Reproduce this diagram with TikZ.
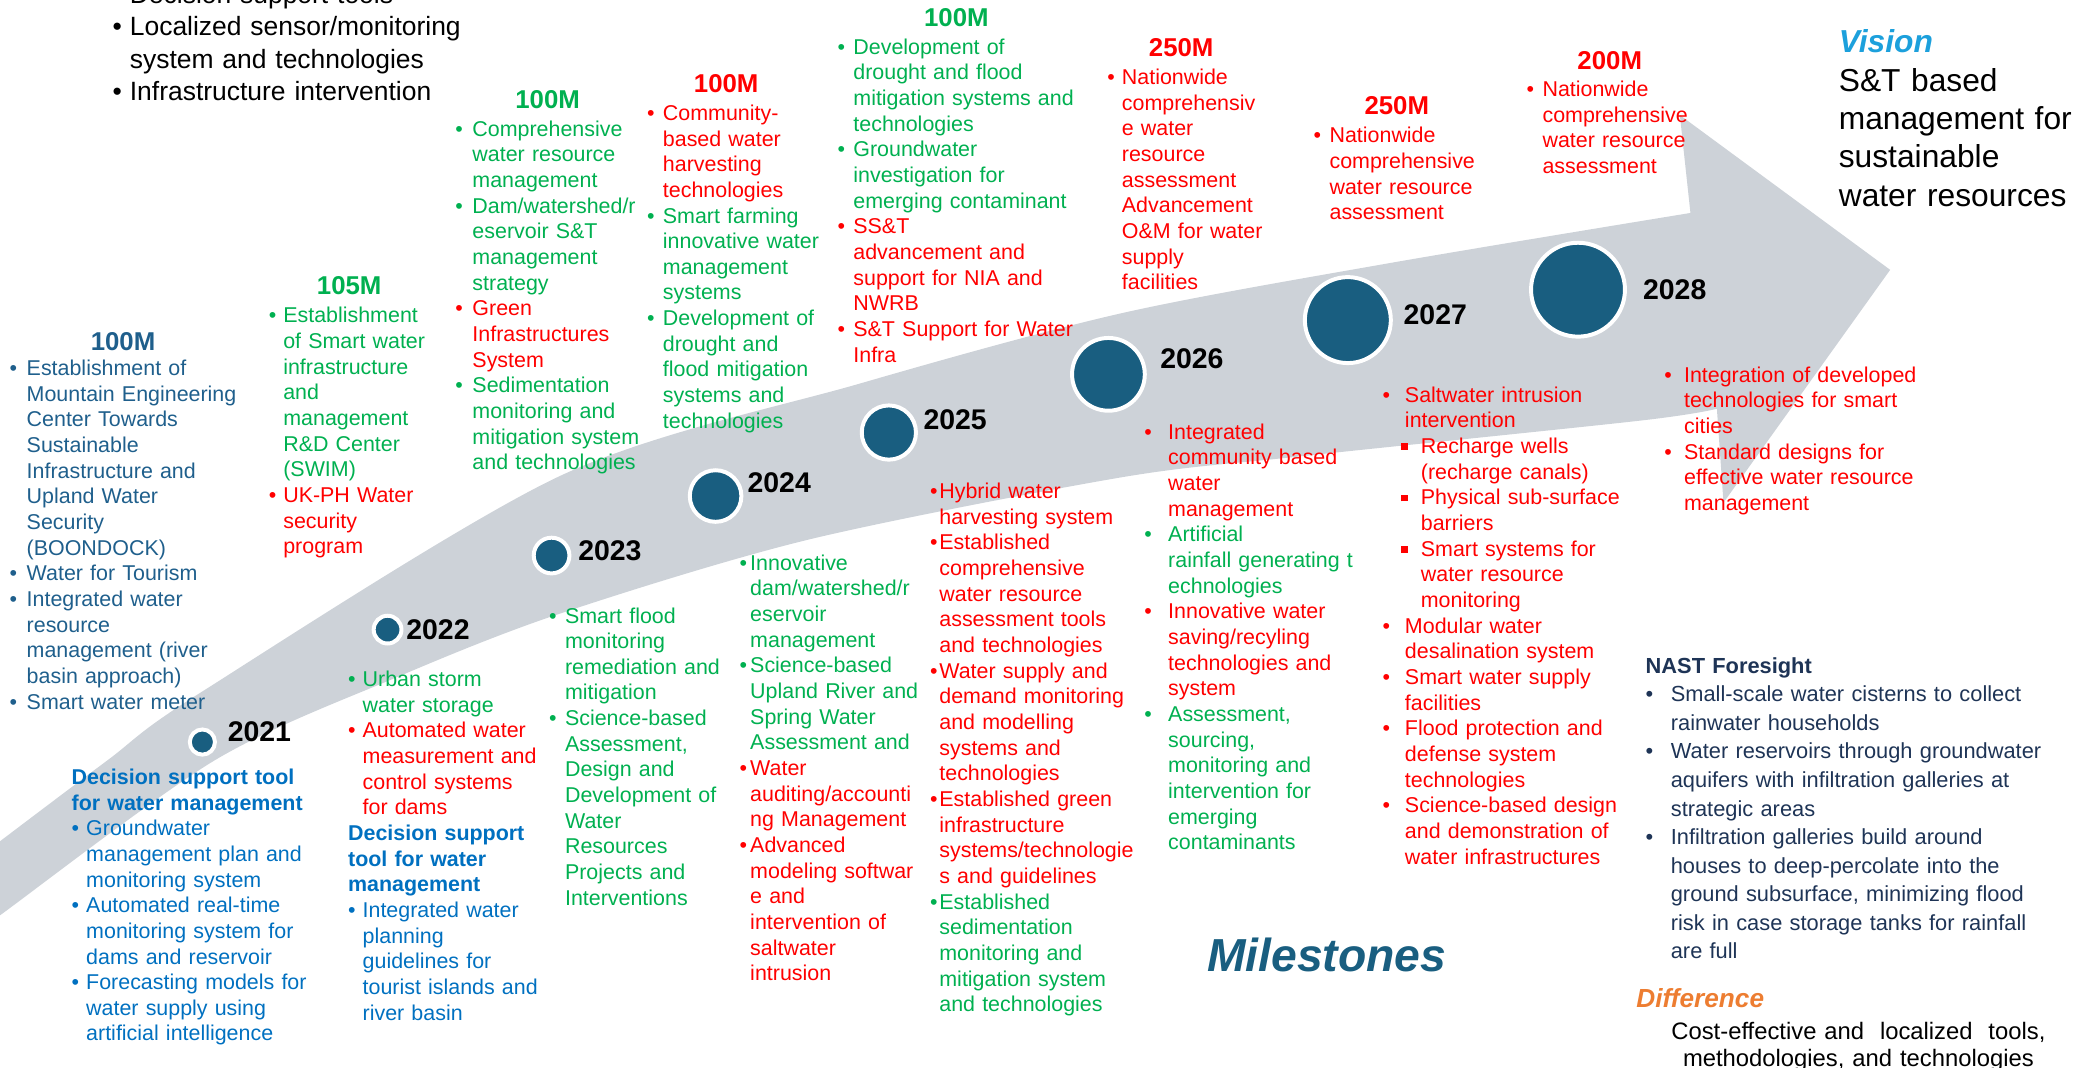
\documentclass[tikz,border=0pt]{standalone}
\usepackage{fontspec}
\setmainfont{Liberation Sans}
\usetikzlibrary{positioning}
\definecolor{bandgray}{RGB}{205,210,216}
\definecolor{tealblue}{RGB}{25,94,128}
\definecolor{blockblue}{RGB}{31,95,140}
\definecolor{toolblue}{RGB}{0,112,192}
\definecolor{techgreen}{RGB}{0,176,80}
\definecolor{techred}{RGB}{255,0,0}
\definecolor{visionblue}{RGB}{28,160,220}
\definecolor{difforange}{RGB}{237,125,49}
\definecolor{nastnavy}{RGB}{30,52,86}
\newlength{\bw}
\newcommand{\bodyfont}{\fontsize{16.2}{19.4}\selectfont}
\newcommand{\itm}[2]{\noindent{\color{#1}\hangindent=\bw\hangafter=1\makebox[\bw][l]{\textbullet}#2\par}}
\newcommand{\sqitm}[2]{\noindent{\color{#1}\hangindent=29pt\hangafter=1\hspace*{14pt}\makebox[15pt][l]{\raisebox{2.6pt}{\rule{5pt}{5pt}}}#2\par}}
\newcommand{\hdr}[2]{\noindent{\color{#1}\bfseries #2\par}}
\tikzset{
  band/.style={fill=bandgray},
  yeardot/.style={circle, fill=tealblue, draw=white, line width=3pt, inner sep=0pt, minimum size=#1},
  yearlbl/.style={inner sep=0pt, font=\fontsize{21.5}{25}\selectfont\bfseries},
  amt/.style={inner sep=0pt, font=\fontsize{19.5}{23}\selectfont\bfseries},
  lst/.style={anchor=base west, inner sep=0pt, text width=360pt, align=left, font=\bodyfont,
    execute at begin node={\setlength{\bw}{#1}}}}

\begin{document}
\begin{tikzpicture}[x=1pt,y=-1pt]
\useasboundingbox (0,0) rectangle (1568,807);
\clip (0,0) rectangle (1568,807);

\fill[band] plot[smooth] coordinates {(-30,659) (0,636) (81,575) (151,524) (423,360) (650,290) (847,237) (1050,199) (1278,161)}
  -- (1270,87) -- (1429,204) -- (1303,380) -- (1298,309)
  -- plot[smooth] coordinates {(1298,309) (1240,318) (983,345) (847,361) (611,408) (423,464) (300,512) (162,575) (0,692) (-30,714)} -- cycle;

\node[yeardot=19pt] (c21) at (153,561) {};
\node[yeardot=21pt] (c22) at (293,476) {};
\node[yeardot=27pt] (c23) at (417,420) {};
\node[yeardot=39pt] (c24) at (541,375) {};
\node[yeardot=41pt] (c25) at (672,327) {};
\node[yeardot=55pt] (c26) at (838,283) {};
\node[yeardot=65pt] (c27) at (1019,242) {};
\node[yeardot=71pt] (c28) at (1193,219) {};

\node[yearlbl, right=8pt of c21, yshift=8pt] (y21) {2021};
\node[yearlbl, right=2pt of c22] (y22) {2022};
\node[yearlbl, right=5pt of c23, yshift=4pt] (y23) {2023};
\node[yearlbl, right=3pt of c24, yshift=10pt] (y24) {2024};
\node[yearlbl, right=4pt of c25, yshift=10pt] (y25) {2025};
\node[yearlbl, right=10pt of c26, yshift=12pt] (y26) {2026};
\node[yearlbl, right=8pt of c27, yshift=4pt] (y27) {2027};
\node[yearlbl, right=12pt of c28] (y28) {2028};

\node[lst=13pt, font=\fontsize{20}{24.5}\selectfont] (goals) at (85,2.5) {\itm{black}{Decision support tools}\itm{black}{Localized sensor/monitoring\newline system and technologies}\itm{black}{Infrastructure intervention}};

\node[amt, text=blockblue] (m21) at (93,258) {100M};
\node[lst=13pt] (top21) at (7,284) {\itm{blockblue}{Establishment of\newline Mountain Engineering\newline Center Towards\newline Sustainable\newline Infrastructure and\newline Upland Water\newline Security\newline (BOONDOCK)}\itm{blockblue}{Water for Tourism}\itm{blockblue}{Integrated water\newline resource\newline management (river\newline basin approach)}\itm{blockblue}{Smart water meter}};

\node[amt, text=techgreen] (m22) at (264,216) {105M};
\node[lst=11pt] (top22) at (203,244) {\itm{techgreen}{Establishment\newline of Smart water\newline infrastructure\newline and\newline management\newline R\&D Center\newline (SWIM)}\itm{techred}{UK-PH Water\newline security\newline program}};

\node[amt, text=techgreen] (m23) at (414,75) {100M};
\node[lst=13pt] (top23) at (344,103) {\itm{techgreen}{Comprehensive\newline water resource\newline management}\itm{techgreen}{Dam/watershed/r\newline eservoir S\&T\newline management\newline strategy}\itm{techred}{Green\newline Infrastructures\newline System}\itm{techgreen}{Sedimentation\newline monitoring and\newline mitigation system\newline and technologies}};

\node[amt, text=techred] (m24) at (549,63) {100M};
\node[lst=12pt] (top24) at (489,91) {\itm{techred}{Community-\newline based water\newline harvesting\newline technologies}\itm{techgreen}{Smart farming\newline innovative water\newline management\newline systems}\itm{techgreen}{Development of\newline drought and\newline flood mitigation\newline systems and\newline technologies}};

\node[amt, text=techgreen] (m25) at (723,13) {100M};
\node[lst=12pt] (top25) at (633,41) {\itm{techgreen}{Development of\newline drought and flood\newline mitigation systems and\newline technologies}\itm{techgreen}{Groundwater\newline investigation for\newline emerging contaminant}\itm{techred}{SS\&T\newline advancement and\newline support for NIA and\newline NWRB}\itm{techred}{S\&T Support for Water\newline Infra}};

\node[amt, text=techred] (m26) at (893,36) {250M};
\node[lst=11pt] (top26) at (837,64) {\itm{techred}{Nationwide\newline comprehensiv\newline e water\newline resource\newline assessment\newline Advancement\newline O\&M for water\newline supply\newline facilities}};

\node[amt, text=techred] (m27) at (1056,80) {250M};
\node[lst=12pt] (top27) at (993,108) {\itm{techred}{Nationwide\newline comprehensive\newline water resource\newline assessment}};

\node[amt, text=techred] (m28) at (1217,46) {200M};
\node[lst=12pt] (top28) at (1154,73) {\itm{techred}{Nationwide\newline comprehensive\newline water resource\newline assessment}};

\node[lst=11pt] (bot21) at (54,593) {\hdr{toolblue}{Decision support tool\newline for water management}\itm{toolblue}{Groundwater\newline management plan and\newline monitoring system}\itm{toolblue}{Automated real-time\newline monitoring system for\newline dams and reservoir}\itm{toolblue}{Forecasting models for\newline water supply using\newline artificial intelligence}};

\node[lst=11pt] (bot22) at (263,519) {\itm{techgreen}{Urban storm\newline water storage}\itm{techred}{Automated water\newline measurement and\newline control systems\newline for dams}\hdr{toolblue}{Decision support\newline tool for water\newline management}\itm{toolblue}{Integrated water\newline planning\newline guidelines for\newline tourist islands and\newline river basin}};

\node[lst=12pt] (bot23) at (415,471) {\itm{techgreen}{Smart flood\newline monitoring\newline remediation and\newline mitigation}\itm{techgreen}{Science-based\newline Assessment,\newline Design and\newline Development of\newline Water\newline Resources\newline Projects and\newline Interventions}};

\node[lst=8pt] (bot24) at (559,431) {\itm{techgreen}{Innovative\newline dam/watershed/r\newline eservoir\newline management}\itm{techgreen}{Science-based\newline Upland River and\newline Spring Water\newline Assessment and}\itm{techred}{Water\newline auditing/accounti\newline ng Management}\itm{techred}{Advanced\newline modeling softwar\newline e and\newline intervention of\newline saltwater\newline intrusion}};

\node[lst=7pt] (bot25) at (703,377) {\itm{techred}{Hybrid water\newline harvesting system}\itm{techred}{Established\newline comprehensive\newline water resource\newline assessment tools\newline and technologies}\itm{techred}{Water supply and\newline demand monitoring\newline and modelling\newline systems and\newline technologies}\itm{techred}{Established green\newline infrastructure\newline systems/technologie\newline s and guidelines}\itm{techgreen}{Established\newline sedimentation\newline monitoring and\newline mitigation system\newline and technologies}};

\node[lst=18pt] (bot26) at (865,332) {\itm{techred}{Integrated\newline community based\newline water\newline management}\itm{techgreen}{Artificial\newline rainfall generating t\newline echnologies}\itm{techred}{Innovative water\newline saving/recyling\newline technologies and\newline system}\itm{techgreen}{Assessment,\newline sourcing,\newline monitoring and\newline intervention for\newline emerging\newline contaminants}};

\node[lst=17pt] (bot27) at (1045,304) {\itm{techred}{Saltwater intrusion\newline intervention}\sqitm{techred}{Recharge wells\newline (recharge canals)}\sqitm{techred}{Physical sub-surface\newline barriers}\sqitm{techred}{Smart systems for\newline water resource\newline monitoring}\itm{techred}{Modular water\newline desalination system}\itm{techred}{Smart water supply\newline facilities}\itm{techred}{Flood protection and\newline defense system\newline technologies}\itm{techred}{Science-based design\newline and demonstration of\newline water infrastructures}};

\node[lst=15pt] (bot28) at (1258,289) {\itm{techred}{Integration of developed\newline technologies for smart\newline cities}\itm{techred}{Standard designs for\newline effective water resource\newline management}};

\node[lst=0pt, font=\fontsize{24}{29}\selectfont] (vision) at (1390,40) {\noindent{\color{visionblue}\bfseries\itshape Vision}\newline S\&T based\newline management for\newline sustainable\newline water resources};

\node[lst=19pt, font=\fontsize{16.5}{21.6}\selectfont] (nast) at (1244,509) {\hdr{nastnavy}{NAST Foresight}\itm{nastnavy}{Small-scale water cisterns to collect\newline rainwater households}\itm{nastnavy}{Water reservoirs through groundwater\newline aquifers with infiltration galleries at\newline strategic areas}\itm{nastnavy}{Infiltration galleries build around\newline houses to deep-percolate into the\newline ground subsurface, minimizing flood\newline risk in case storage tanks for rainfall\newline are full}};

\node[anchor=base west, inner sep=0pt, text=difforange, font=\fontsize{19.8}{24}\selectfont\bfseries\itshape] (diff) at (1237,762) {Difference};
\node[anchor=base, inner sep=0pt, text width=320pt, align=center, font=\fontsize{18}{21}\selectfont] (cost) at (1405,785.5) {Cost-effective and\ \ localized\ \ tools,\\ methodologies, and technologies};

\node[inner sep=0pt, text=tealblue, font=\fontsize{35}{40}\selectfont\bfseries\itshape] (miles) at (1003,722) {Milestones};
\end{tikzpicture}
\end{document}
